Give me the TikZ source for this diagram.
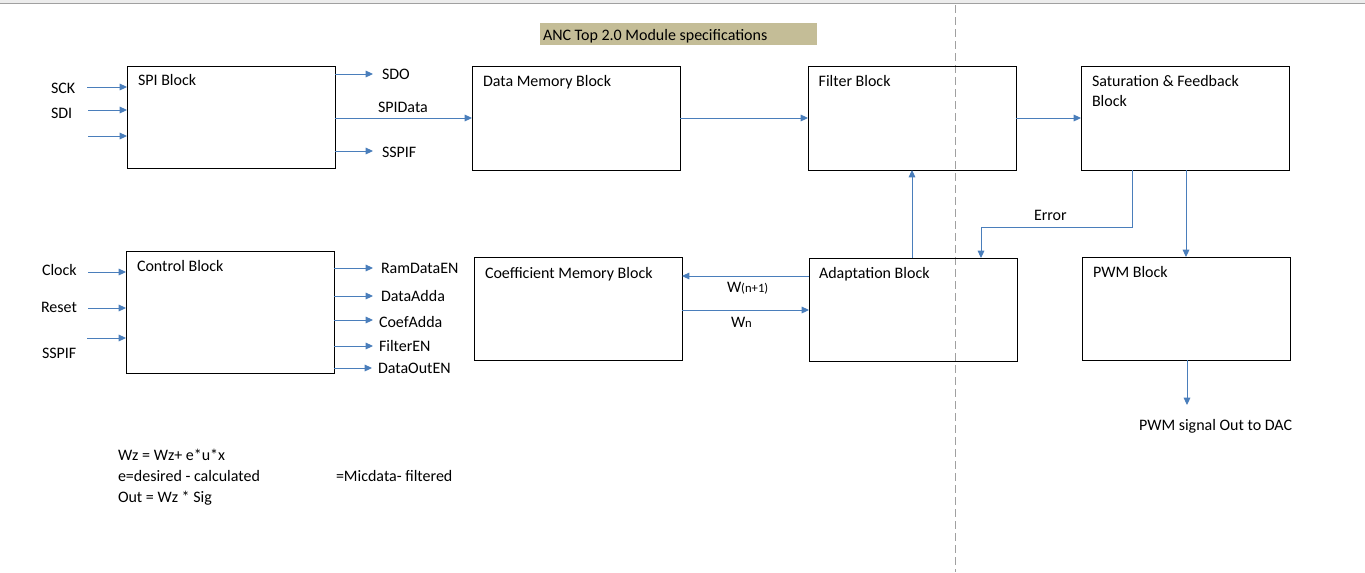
\documentclass[tikz,border=0pt]{standalone}
\usepackage{fontspec}
\setmainfont{Carlito}
\usetikzlibrary{arrows.meta,fit}
\definecolor{arrowblue}{RGB}{74,126,187}
\definecolor{tanc}{RGB}{196,189,151}
\definecolor{dashgray}{RGB}{160,160,160}
\begin{document}
\begin{tikzpicture}[x=0.75pt,y=-0.75pt,
  every node/.style={font=\fontsize{12pt}{15.5pt}\selectfont, inner sep=0pt, outer sep=0pt},
  blk/.style={draw=black, line width=0.75pt},
  lbl/.style={anchor=base west},
  arr/.style={draw=arrowblue, line width=0.75pt, -{Triangle[length=5.5pt,width=5pt]}}]
\useasboundingbox (0,0) rectangle (1365,572);
% top band
\fill[gray!15] (0,0) rectangle (1365,3);
\draw[dashgray, line width=0.75pt] (0,3.5) -- (1365,3.5);
% dashed separator
\draw[dashgray, line width=0.75pt, dash pattern=on 6pt off 3pt] (955,5) -- (955,572);
% title
\node[fill=tanc, fit={(540,23) (817,45)}] (titlebox) {};
\node[lbl] (title) at (543,40) {ANC Top 2.0 Module specifications};
% blocks
\node[blk, fit={(127,66) (335,168)}] (spi) {};
\node[blk, fit={(472,66) (680,170)}] (dmem) {};
\node[blk, fit={(808,66) (1016,170)}] (filt) {};
\node[blk, fit={(1081,66) (1289,170)}] (sat) {};
\node[blk, fit={(126,251) (334,373)}] (ctrl) {};
\node[blk, fit={(474,257) (682,360)}] (coef) {};
\node[blk, fit={(809,258) (1017,361)}] (adapt) {};
\node[blk, fit={(1082,257) (1290,360)}] (pwm) {};
% block labels
\node[lbl] (spiL) at ([xshift=8.25pt,yshift=-14.25pt]spi.north west) {SPI Block};
\node[lbl] (dmemL) at ([xshift=8.25pt,yshift=-15pt]dmem.north west) {Data Memory Block};
\node[lbl] (filtL) at ([xshift=8pt,yshift=-15pt]filt.north west) {Filter Block};
\node[lbl] (satL) at ([xshift=8.25pt,yshift=-15pt]sat.north west) {Saturation \& Feedback};
\node[lbl] (satL2) at ([xshift=8.25pt,yshift=-30.25pt]sat.north west) {Block};
\node[lbl] (ctrlL) at ([xshift=8.25pt,yshift=-15pt]ctrl.north west) {Control Block};
\node[lbl] (coefL) at ([xshift=8.25pt,yshift=-15.75pt]coef.north west) {Coefficient Memory Block};
\node[lbl] (adaptL) at ([xshift=7.5pt,yshift=-15pt]adapt.north west) {Adaptation Block};
\node[lbl] (pwmL) at ([xshift=8.25pt,yshift=-15pt]pwm.north west) {PWM Block};
% SPI inputs
\node[lbl] (sck) at (51,93) {SCK};
\node[lbl] (sdi) at (51,118) {SDI};
\coordinate (sckS) at (87,87);
\coordinate (sdiS) at (88,110);
\coordinate (thS) at (88,136);
\draw[arr] (sckS) -- (sckS -| spi.west);
\draw[arr] (sdiS) -- (sdiS -| spi.west);
\draw[arr] (thS) -- (thS -| spi.west);
% SPI outputs
\node[lbl] (sdo) at (382,79) {SDO};
\node[lbl] (spidata) at (378,112) {SPIData};
\node[lbl] (sspif1) at (382,157) {SSPIF};
\coordinate (sdoE) at (373,74);
\coordinate (sspifE) at (373,151);
\draw[arr] (spi.east |- sdoE) -- (sdoE);
\draw[arr] (spi.east |- sspifE) -- (sspifE);
\draw[arr] ([yshift=-0.75pt]spi.east) -- ([yshift=-0.75pt]spi.east -| dmem.west);
% Control inputs
\node[lbl] (clock) at (42,275) {Clock};
\node[lbl] (reset) at (41,312) {Reset};
\node[lbl] (sspif2) at (42,358) {SSPIF};
\coordinate (clkS) at (88,272);
\coordinate (rstS) at (88,308);
\coordinate (ssS) at (87,338);
\draw[arr] (clkS) -- (clkS -| ctrl.west);
\draw[arr] (rstS) -- (rstS -| ctrl.west);
\draw[arr] (ssS) -- (ssS -| ctrl.west);
% Control outputs
\node[lbl] (ramde) at (381,273) {RamDataEN};
\node[lbl] (dadda) at (381,301) {DataAdda};
\node[lbl] (cadda) at (379,327) {CoefAdda};
\node[lbl] (filen) at (379,351) {FilterEN};
\node[lbl] (doen) at (378,373) {DataOutEN};
\coordinate (o1) at (373,268);
\coordinate (o2) at (373,296);
\coordinate (o3) at (373,320);
\coordinate (o4) at (373,346);
\coordinate (o5) at (372,368);
\draw[arr] (ctrl.east |- o1) -- (o1);
\draw[arr] (ctrl.east |- o2) -- (o2);
\draw[arr] (ctrl.east |- o3) -- (o3);
\draw[arr] (ctrl.east |- o4) -- (o4);
\draw[arr] (ctrl.east |- o5) -- (o5);
% data path
\draw[arr] (dmem.east) -- (filt.west);
\draw[arr] (filt.east) -- (sat.west);
\draw[arr] (adapt.north -| 912,0) -- (filt.south -| 912,0);
% error
\coordinate (e1) at (1132,227);
\coordinate (e2) at (981,227);
\draw[arr] (sat.south -| e1) -- (e1) -- (e2) -- (e2 |- adapt.north);
\node[lbl] (err) at (1034,220) {Error};
% sat -> pwm -> out
\draw[arr] (sat.south -| 1186,0) -- (pwm.north -| 1186,0);
\coordinate (pout) at (1187,405);
\draw[arr] (pwm.south -| pout) -- (pout);
\node[lbl] (pwmout) at (1139,430) {PWM signal Out to DAC};
% W arrows
\coordinate (w1) at (809,276);
\coordinate (w2) at (682,310);
\draw[arr] (adapt.west |- w1) -- (coef.east |- w1);
\draw[arr] (coef.east |- w2) -- (adapt.west |- w2);
\node[lbl] (wn1) at (727,292) {W{\fontsize{9.5pt}{11pt}\selectfont(n+1)}};
\node[lbl] (wn) at (731,327) {W{\fontsize{9.5pt}{11pt}\selectfont n}};
% equations
\node[lbl] (eq1) at (118,460) {Wz = Wz+ e*u*x};
\node[lbl] (eq2) at (118,481) {e=desired - calculated};
\node[lbl] (eq2b) at (336,481) {=Micdata- filtered};
\node[lbl] (eq3) at (118,502) {Out = Wz * Sig};
\end{tikzpicture}
\end{document}
